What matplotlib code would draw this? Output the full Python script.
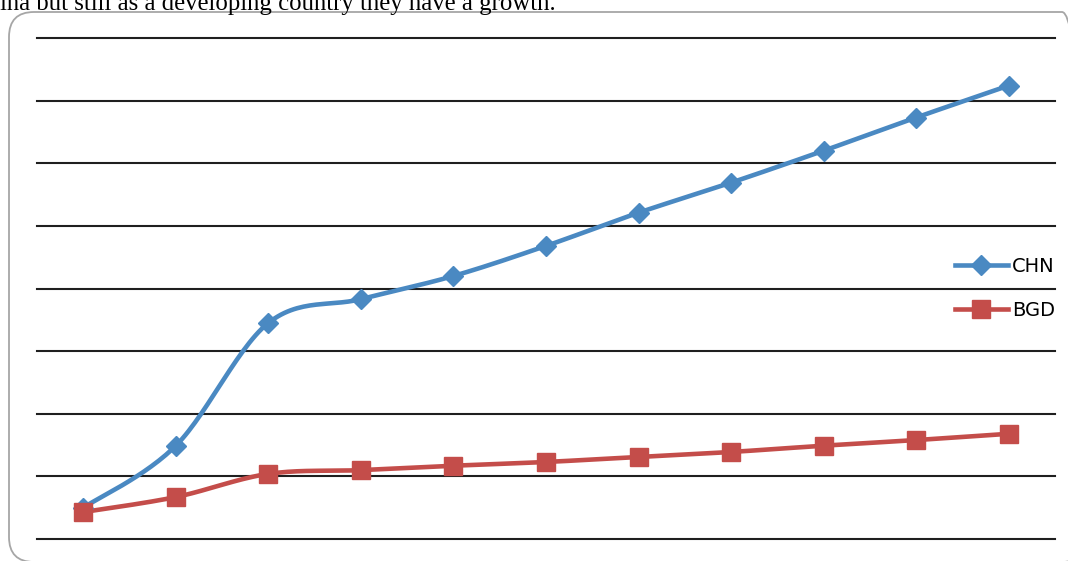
import numpy as np
import matplotlib
matplotlib.use('Agg')
import matplotlib.pyplot as plt
from matplotlib.patches import FancyBboxPatch

# values (one grid step = 1 unit, no axis labels shown)
points = list(range(11))
chn = [0.50, 1.49, 3.45, 3.83, 4.20, 4.68, 5.21, 5.69, 6.20, 6.73, 7.24]
bgd = [0.43, 0.67, 1.04, 1.10, 1.17, 1.23, 1.31, 1.39, 1.49, 1.58, 1.68]
series_names = ['CHN', 'BGD']
caption = 'ina but still as a developing country they have a growth.'

BLUE = '#4A89C2'
RED = '#C44D4A'


def smooth_curve(xs, ys, steps=30):
    """Catmull-Rom drawing path through the points (like Excel's smoothed line)."""
    p = np.column_stack([xs, ys]).astype(float)
    p = np.vstack([p[0], p, p[-1]])
    out = []
    for i in range(1, len(p) - 2):
        p0, p1, p2, p3 = p[i - 1], p[i], p[i + 1], p[i + 2]
        c1 = p1 + (p2 - p0) / 6
        c2 = p2 - (p3 - p1) / 6
        t = np.linspace(0, 1, steps)[:, None]
        seg = ((1 - t) ** 3 * p1 + 3 * (1 - t) ** 2 * t * c1
               + 3 * (1 - t) * t ** 2 * c2 + t ** 3 * p2)
        out.append(seg if i == 1 else seg[1:])
    out = np.vstack(out)
    return out[:, 0], out[:, 1]


W, H = 1068, 561
fig = plt.figure(figsize=(W / 100, H / 100), dpi=100)

# rounded frame of the embedded chart (right and bottom run past the image edge)
frame = FancyBboxPatch((0.09, -0.01), 10.78, 5.50,
                       boxstyle='round,pad=0,rounding_size=0.25',
                       transform=fig.dpi_scale_trans, facecolor='none',
                       edgecolor='#A6A6A6', linewidth=1.3, zorder=-1)
fig.patches.append(frame)

fig.text(0.0, 1 - 10 / H, caption, family='Liberation Serif', fontsize=17.8,
         va='baseline', ha='left', color='black')

ax = fig.add_axes([37 / W, (H - 539) / H, (1055 - 37) / W, (539 - 38) / H])
ax.set_facecolor('none')
ax.set_xlim(-0.5, 10.5)
ax.set_ylim(0, 8)
for s in ax.spines.values():
    s.set_visible(False)
ax.set_xticks([])
ax.set_yticks(range(0, 9))
ax.tick_params(left=False, labelleft=False)
ax.grid(axis='y', color='#1F1F1F', linewidth=1.5)
for gl in ax.get_ygridlines():
    gl.set_clip_on(False)
ax.set_axisbelow(True)

for vals, color, marker, ms, name in [(chn, BLUE, 'D', 10.5, series_names[0]),
                                      (bgd, RED, 's', 13, series_names[1])]:
    sx, sy = smooth_curve(points, vals)
    ax.plot(sx, sy, color=color, linewidth=3.3, solid_capstyle='round', zorder=3)
    ax.plot(points, vals, linestyle='none', marker=marker, markersize=ms,
            color=color, zorder=4)

handles = [
    plt.Line2D([], [], color=BLUE, linewidth=3.3, marker='D', markersize=10.5),
    plt.Line2D([], [], color=RED, linewidth=3.3, marker='s', markersize=13),
]
fig.legend(handles, series_names, loc='center left',
           bbox_to_anchor=(955 / W, 1 - 288.5 / H), frameon=False,
           fontsize=14, handlelength=2.7, handletextpad=0.25,
           labelspacing=1.3, borderpad=0, borderaxespad=0, numpoints=1)

fig.savefig('out.png', dpi=100)
